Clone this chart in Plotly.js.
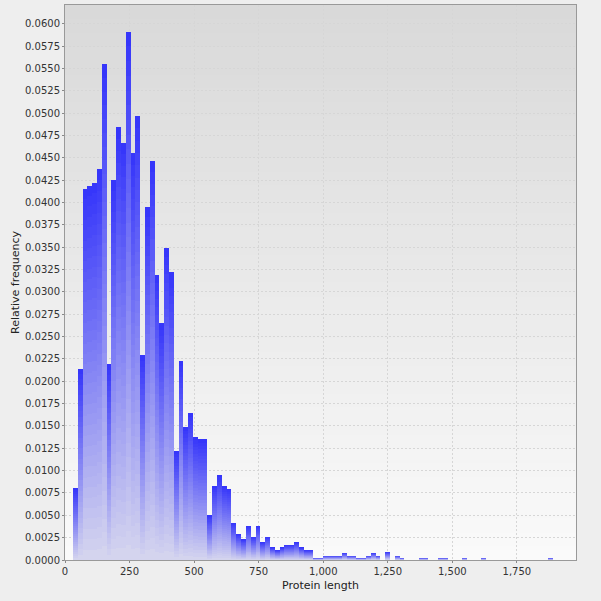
<!DOCTYPE html>
<html>
<head>
<meta charset="utf-8">
<script src="https://cdn.plot.ly/plotly-3.0.1.min.js"></script>
<style>html,body{margin:0;padding:0;background:#eeeeee;}#chart{width:601px;height:601px;}</style>
</head>
<body>
<div id="chart"></div>
<script>
// Histogram bins (protein length) and relative frequencies
const binStart = 31;
const binWidth = 18.6;
const relFreq = [
  0.0081, 0.0214, 0.0415, 0.0419, 0.0422, 0.0437, 0.0555, 0.0219, 0.0425, 0.0485,
  0.0467, 0.0591, 0.0455, 0.0497, 0.0229, 0.0395, 0.0446, 0.0319, 0.0265, 0.0349,
  0.0322, 0.0122, 0.0223, 0.0149, 0.0165, 0.0138, 0.0135, 0.0135, 0.0050, 0.0083,
  0.0095, 0.0083, 0.0080, 0.0041, 0.0029, 0.0023, 0.0038, 0.0026, 0.0038, 0.0020,
  0.0026, 0.0014, 0.0011, 0.0014, 0.0017, 0.0017, 0.0020, 0.0014, 0.0011, 0.0011,
  0.00025, 0.00025, 0.0005, 0.0005, 0.0005, 0.0005, 0.0008, 0.0005, 0.0005, 0.00025,
  0.00025, 0.0005, 0.0008, 0.0005, 0, 0.0009, 0, 0.0005, 0.00025, 0,
  0, 0, 0.00025, 0.00025, 0, 0, 0.00025, 0.00025, 0, 0,
  0, 0.00025, 0, 0, 0, 0.00025, 0, 0, 0, 0,
  0, 0, 0, 0, 0, 0, 0, 0, 0, 0.00025
];
const yTickStep = 0.0025;
const xTickStep = 250;
const xTitle = 'Protein length';
const yTitle = 'Relative frequency';

// bin centres from bin definition
const centers = relFreq.map((_, i) => binStart + (i + 0.5) * binWidth);

// per-bar vertical gradient: stack N slices of each bar
const N = 36;
const colTop = [52, 52, 250], colBottom = [214, 214, 238];
function mix(t) {
  const c = colTop.map((v, k) => Math.round(colBottom[k] + (v - colBottom[k]) * t));
  return 'rgb(' + c.join(',') + ')';
}
const traces = [];
for (let s = 0; s < N; s++) {
  traces.push({
    type: 'bar',
    x: centers,
    y: relFreq.map(v => v / N),
    width: binWidth,
    marker: {color: mix((s + 0.5) / N), line: {width: 0}},
    hoverinfo: 'skip',
    showlegend: false
  });
}

// plot-area background gradient (grey at top to near white at bottom)
const shapes = [];
const B = 40;
for (let b = 0; b < B; b++) {
  const t = b / (B - 1);
  const g = Math.round(250 - (250 - 217) * t);
  shapes.push({
    type: 'rect', xref: 'x domain', yref: 'y domain', layer: 'below',
    x0: 0, x1: 1, y0: b / B, y1: (b + 1) / B + 0.002,
    line: {width: 0}, fillcolor: 'rgb(' + g + ',' + g + ',' + g + ')'
  });
}

const tickFont = {family: 'DejaVu Sans, sans-serif', size: 10, color: '#333'};
const layout = {
  width: 601, height: 601,
  paper_bgcolor: '#eeeeee',
  plot_bgcolor: '#eeeeee',
  margin: {l: 65, r: 25, t: 5, b: 41},
  barmode: 'stack',
  bargap: 0,
  shapes: shapes,
  xaxis: {
    range: [0, 1979],
    dtick: xTickStep, tick0: 0,
    tickformat: ',d',
    ticks: 'outside', ticklen: 2, tickcolor: '#888',
    showgrid: true, gridcolor: '#d6d6d6', griddash: '2px,2px', gridwidth: 1,
    zeroline: false,
    showline: true, linecolor: '#999', mirror: true,
    tickfont: tickFont,
    title: {text: xTitle, font: {family: 'DejaVu Sans, sans-serif', size: 11, color: '#222'}, standoff: 5}
  },
  yaxis: {
    range: [0, 0.0621],
    dtick: yTickStep, tick0: 0,
    tickformat: '.4f',
    ticks: 'outside', ticklen: 2, tickcolor: '#888',
    showgrid: true, gridcolor: '#d6d6d6', griddash: '2px,2px', gridwidth: 1,
    zeroline: false,
    showline: true, linecolor: '#999', mirror: true,
    tickfont: tickFont,
    title: {text: yTitle, font: {family: 'DejaVu Sans, sans-serif', size: 11, color: '#222'}, standoff: 3}
  }
};

Plotly.newPlot('chart', traces, layout, {displayModeBar: false, staticPlot: true});
</script>
</body>
</html>
